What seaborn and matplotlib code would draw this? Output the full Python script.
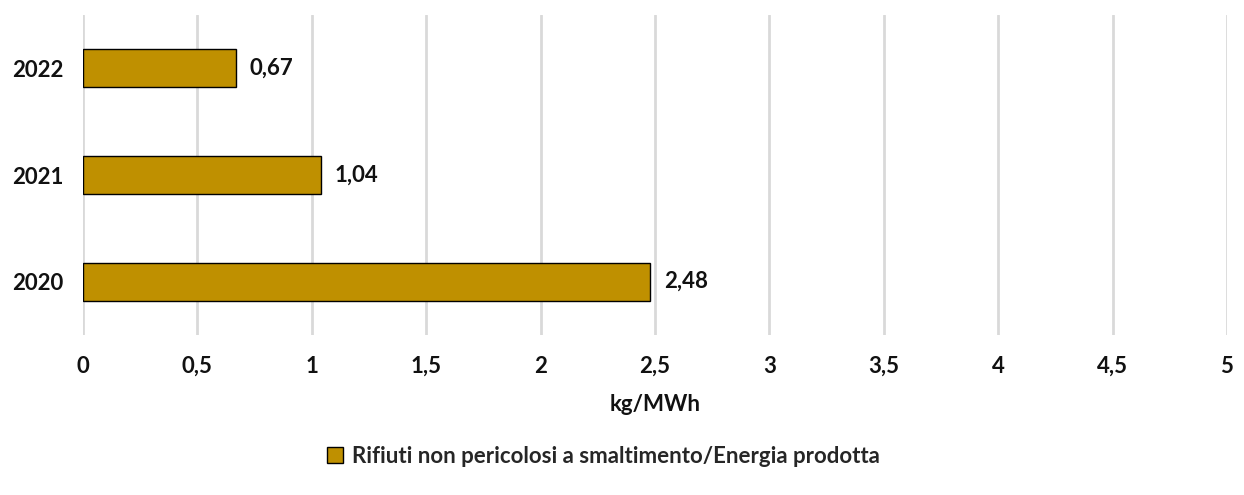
import numpy as np
import pandas as pd
import matplotlib.pyplot as plt
import seaborn as sns

# Data
years = ["2022", "2021", "2020"]
values = [0.67, 1.04, 2.48]
series_name = "Rifiuti non pericolosi a smaltimento/Energia prodotta"
x_ticks = [0, 0.5, 1, 1.5, 2, 2.5, 3, 3.5, 4, 4.5, 5]

df = pd.DataFrame({"Anno": years, "Valore": values, "Serie": series_name})

sns.set_theme(style="white")
plt.rcParams["font.family"] = ["Lato", "DejaVu Sans"]
plt.rcParams["font.weight"] = "bold"

bar_color = "#BF9000"
text_color = "#111111"
fs = 16

fig = plt.figure(figsize=(12.44, 4.95), dpi=100)
ax = fig.add_axes([0.0667, 0.3232, 0.9196, 0.6465])

sns.barplot(
    data=df, y="Anno", x="Valore", hue="Serie", orient="h",
    palette=[bar_color], saturation=1, edgecolor="black", linewidth=1,
    width=0.355, ax=ax, legend=True
)

# Value labels
for y, v in enumerate(values):
    ax.text(v + 0.058, y, f"{v:.2f}".replace(".", ","), va="center", ha="left",
            fontsize=fs, fontweight="bold", color=text_color)

ax.set_xlim(0, 5)
ax.set_ylim(2.5, -0.5)
ax.set_xticks(x_ticks)
ax.set_xticklabels([f"{t:g}".replace(".", ",") for t in x_ticks])
ax.tick_params(axis="both", length=0, labelsize=fs, labelcolor=text_color)
ax.tick_params(axis="x", pad=15)
ax.tick_params(axis="y", pad=14)
for lbl in ax.get_xticklabels() + ax.get_yticklabels():
    lbl.set_fontweight("bold")

ax.xaxis.grid(True, color="#d9d9d9", linewidth=2)
ax.set_axisbelow(True)
for s in ax.spines.values():
    s.set_visible(False)

ax.set_xlabel("kg/MWh", fontsize=fs, fontweight="bold", color=text_color, labelpad=12)
ax.set_ylabel("")

handles, labels = ax.get_legend_handles_labels()
ax.legend_.remove()
fig.legend(handles, labels, loc="center", bbox_to_anchor=(0.485, 0.078),
           frameon=False, prop={"size": fs, "weight": "bold"},
           handlelength=0.75, handleheight=0.75, handletextpad=0.4)

fig.savefig("out.png", dpi=100)
